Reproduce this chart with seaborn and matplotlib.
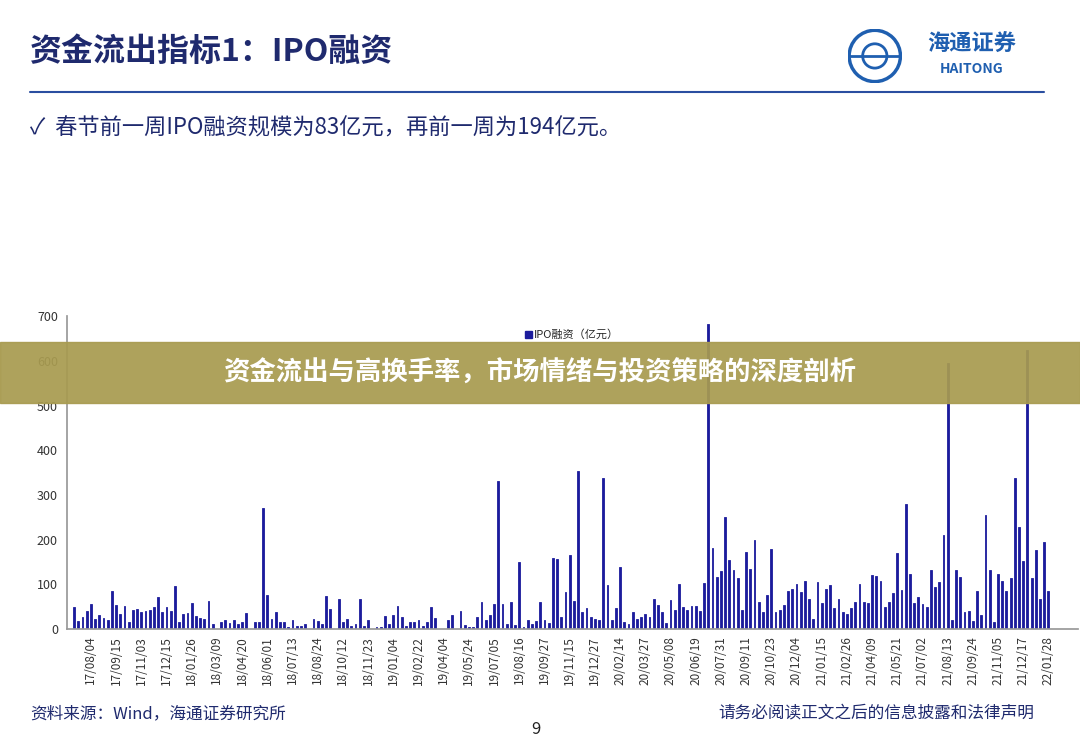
import matplotlib
matplotlib.use("Agg")
import matplotlib.pyplot as plt
import numpy as np
import pandas as pd
import seaborn as sns
from matplotlib.patches import Rectangle, Circle

plt.rcParams["font.family"] = ["Noto Sans CJK SC", "DejaVu Sans"]
sns.set_theme(style="white", rc={"font.family": ["Noto Sans CJK SC", "DejaVu Sans"]})

# weekly IPO financing (亿元)
ipo_values = [
    49, 17, 26, 41, 56, 23, 31, 24, 21, 84, 54, 33, 52, 15, 42, 45, 38, 39, 43, 49,
    71, 37, 50, 41, 97, 15, 33, 36, 58, 28, 24, 22, 63, 12, 0, 16, 19, 13, 19, 10,
    16, 36, 0, 15, 15, 271, 76, 23, 38, 15, 15, 4, 21, 6, 6, 12, 0, 23, 17, 11,
    73, 45, 0, 66, 16, 22, 6, 10, 68, 6, 19, 0, 4, 4, 28, 12, 32, 52, 26, 6,
    16, 16, 21, 7, 16, 49, 24, 0, 0, 21, 30, 0, 39, 8, 4, 4, 26, 61, 19, 32,
    56, 331, 56, 10, 60, 8, 150, 4, 19, 10, 17, 60, 21, 13, 158, 156,
    26, 82, 165, 63, 353, 37, 46, 27, 23, 20, 338, 99, 21, 47, 139, 16, 10, 37,
    23, 27, 34, 27, 67, 53, 37, 13, 65, 43, 101, 49, 43, 52, 52, 41, 103, 683,
    181, 116, 129, 251, 155, 131, 113, 43, 172, 134, 198, 60, 37, 76, 178, 37, 43, 54,
    84, 90, 101, 83, 108, 67, 23, 105, 57, 89, 98, 47, 67, 37, 34, 46, 60, 101,
    60, 57, 120, 118, 107, 49, 60, 80, 169, 88, 280, 122, 57, 72, 56, 49, 131, 93,
    105, 210, 596, 19, 131, 117, 37, 41, 17, 84, 32, 254, 131, 16, 123, 107, 84, 113,
    337, 229, 153, 625, 113, 176, 68, 195, 84,
]

tick_dates = [
    "17/08/04", "17/09/15", "17/11/03", "17/12/15", "18/01/26", "18/03/09", "18/04/20",
    "18/06/01", "18/07/13", "18/08/24", "18/10/12", "18/11/23", "19/01/04", "19/02/22",
    "19/04/04", "19/05/24", "19/07/05", "19/08/16", "19/09/27", "19/11/15", "19/12/27",
    "20/02/14", "20/03/27", "20/05/08", "20/06/19", "20/07/31", "20/09/11", "20/10/23",
    "20/12/04", "21/01/15", "21/02/26", "21/04/09", "21/05/21", "21/07/02", "21/08/13",
    "21/09/24", "21/11/05", "21/12/17", "22/01/28",
]

NAVY = "#1f2a6e"
BAR = "#1c1c9c"

n = len(ipo_values)
df = pd.DataFrame({"idx": np.arange(n), "val": ipo_values})

fig = plt.figure(figsize=(10.8, 7.46), dpi=100)

# chart
ax = fig.add_axes([0.062, 0.157, 0.936, 0.419])
sns.barplot(data=df, x="idx", y="val", color=BAR, width=0.45, ax=ax,
            native_scale=True, saturation=1, edgecolor=BAR, linewidth=0.6)
ax.set_xlim(-1.7, n + 6)
ax.set_ylim(0, 700)
ax.set_yticks(range(0, 701, 100))
ax.tick_params(axis="y", labelsize=9, colors="#333333", length=3)
tick_pos = [n - 1 - 6 * k for k in range(len(tick_dates))][::-1]
ax.set_xticks(tick_pos)
ax.set_xticklabels(tick_dates, rotation=90, fontsize=8.5, color="#333333")
ax.tick_params(axis="x", length=3, pad=2)
ax.set_xlabel("")
ax.set_ylabel("")
for s in ["top", "right"]:
    ax.spines[s].set_visible(False)
for s in ["left", "bottom"]:
    ax.spines[s].set_color("#999999")
ax.legend(handles=[Rectangle((0, 0), 1, 1, color=BAR)], labels=["IPO融资（亿元）"],
          loc="upper center", bbox_to_anchor=(0.5, 0.99), frameon=False,
          fontsize=8, handlelength=0.6, handleheight=0.6, handletextpad=0.2)

# header
fig.text(0.028, 0.93, "资金流出指标1：IPO融资", fontsize=23, fontweight="bold",
         color=NAVY, va="center")
fig.add_artist(plt.Line2D([0.028, 0.967], [0.877, 0.877], color="#2a4ea0", lw=1.5))
fig.text(0.028, 0.828, "✓  春节前一周IPO融资规模为83亿元，再前一周为194亿元。",
         fontsize=16, color=NAVY, va="center")

# logo
logo = fig.add_axes([0.785, 0.885, 0.05, 0.08])
logo.set_xlim(-1, 1)
logo.set_ylim(-1, 1)
logo.set_aspect("equal")
logo.axis("off")
logo.add_patch(Circle((0, 0), 0.95, fill=False, lw=2.5, color="#1f5fb0"))
logo.add_patch(Circle((0, 0), 0.45, fill=False, lw=2, color="#1f5fb0"))
logo.plot([-0.95, 0.95], [0, 0], color="#1f5fb0", lw=2)
fig.text(0.9, 0.94, "海通证券", fontsize=16, fontweight="bold", color="#1f5fb0",
         ha="center", va="center")
fig.text(0.9, 0.908, "HAITONG", fontsize=10, fontweight="bold", color="#1f5fb0",
         ha="center", va="center")

# banner overlay
fig.add_artist(Rectangle((0, 1 - 403 / 746), 1, 61 / 746, transform=fig.transFigure,
                         color="#a89b50", alpha=0.93, zorder=10))
fig.text(0.5, 1 - 373 / 746, "资金流出与高换手率，市场情绪与投资策略的深度剖析",
         fontsize=19, fontweight="bold", color="white", ha="center", va="center", zorder=11)

# footer
fig.text(0.028, 0.043, "资料来源：Wind，海通证券研究所", fontsize=12, color=NAVY, va="center")
fig.text(0.496, 0.022, "9", fontsize=12, color="#222222", ha="center", va="center")
fig.text(0.958, 0.043, "请务必阅读正文之后的信息披露和法律声明", fontsize=12,
         color=NAVY, ha="right", va="center")

fig.savefig("out.png", dpi=100)
plt.close(fig)
